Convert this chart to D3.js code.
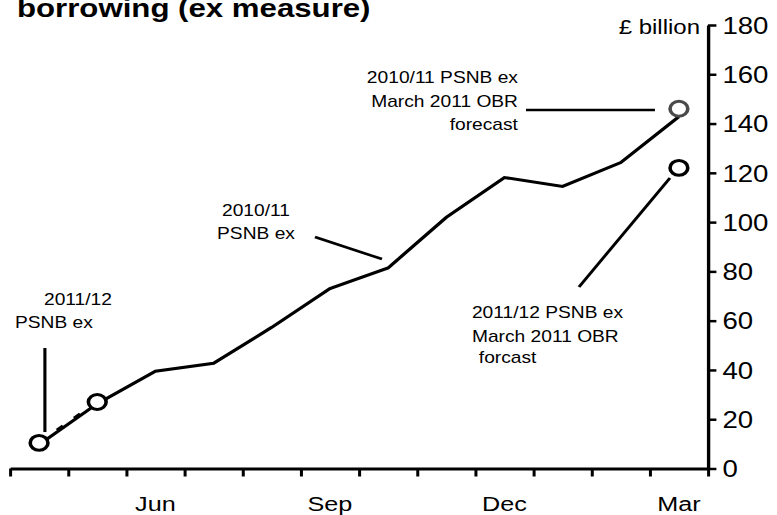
<!DOCTYPE html>
<html>
<head>
<meta charset="utf-8">
<script src="https://cdn.jsdelivr.net/npm/d3@7"></script>
<style>
  html, body { margin: 0; padding: 0; background: #fff; }
  svg { display: block; }
  text { font-family: "Liberation Sans", Arial, sans-serif; fill: #000; }
</style>
</head>
<body>
<div id="chart"></div>
<script>
// Financial-year months, April to March
const months = ["Apr", "May", "Jun", "Jul", "Aug", "Sep", "Oct", "Nov", "Dec", "Jan", "Feb", "Mar"];
const monthLabels = ["Jun", "Sep", "Dec", "Mar"];

// Cumulative public sector net borrowing, ex financial interventions (£ billion)
const psnb1011 = [9.7, 26.3, 39.5, 42.7, 57.3, 73.0, 81.4, 101.9, 118.1, 114.5, 124.2, 142.8];
const psnb1112 = [10.4, 27.0];           // April and May outturns so far
const forecast1011 = 146;                // March 2011 OBR forecast for 2010/11
const forecast1112 = 122;                // March 2011 OBR forecast for 2011/12

const yTicks = [0, 20, 40, 60, 80, 100, 120, 140, 160, 180];

// The artwork is laid out on a narrower canvas and stretched sideways to fill the page
const W = 777, H = 515, SX = 1.2;
const VW = W / SX;

const svg = d3.select("#chart").append("svg")
  .attr("width", W).attr("height", H)
  .attr("viewBox", `0 0 ${VW} ${H}`)
  .attr("preserveAspectRatio", "none");

const plotLeft = 10 / SX, plotRight = 708 / SX;
const plotBottom = 468.5, plotTop = 25;

const xEdge = d3.scaleLinear().domain([0, months.length]).range([plotLeft, plotRight]);
const xBand = d3.scaleBand().domain(months).range([plotLeft, plotRight]);
const xc = m => xBand(m) + xBand.bandwidth() / 2;
const y = d3.scaleLinear().domain([0, 180]).range([plotBottom, plotTop]);

// Title (second line of the heading)
svg.append("text")
  .attr("x", 17 / SX).attr("y", 17)
  .attr("font-size", 26).attr("font-weight", "bold")
  .text("borrowing (ex measure)");

// X axis: ticks on month boundaries, labels in the middle of each quarter-end month
const gx = svg.append("g").attr("transform", `translate(0,${plotBottom})`)
  .call(d3.axisBottom(xEdge).tickValues(d3.range(months.length + 1))
    .tickSize(8).tickSizeOuter(0).tickFormat(""));
gx.select(".domain").attr("stroke", "#000").attr("stroke-width", 3);
gx.selectAll(".tick line").attr("stroke", "#000").attr("stroke-width", 2.5);

svg.append("g").selectAll("text").data(monthLabels).join("text")
  .attr("x", d => xc(d)).attr("y", 511)
  .attr("text-anchor", "middle").attr("font-size", 21)
  .text(d => d);

// Y axis on the right
const gy = svg.append("g").attr("transform", `translate(${plotRight},0)`)
  .call(d3.axisRight(y).tickValues(yTicks).tickSize(7).tickSizeOuter(0).tickPadding(5));
gy.select(".domain").attr("stroke", "#000").attr("stroke-width", 2.8);
gy.selectAll(".tick line").attr("stroke", "#000").attr("stroke-width", 2.5);
gy.selectAll(".tick text")
  .attr("font-size", 23).attr("font-family", "Liberation Sans, Arial, sans-serif")
  .attr("fill", "#000").attr("dy", "0.36em");

svg.append("text")
  .attr("x", 700 / SX).attr("y", y(176.3))
  .attr("text-anchor", "end").attr("font-size", 20)
  .text("£ billion");

// Data lines
const line = d3.line().x((d, i) => xc(months[i])).y(d => y(d));

svg.append("path").datum(psnb1011)
  .attr("d", line).attr("fill", "none")
  .attr("stroke", "#000").attr("stroke-width", 3).attr("stroke-linejoin", "miter");

svg.append("path").datum(psnb1112)
  .attr("d", line).attr("fill", "none")
  .attr("stroke", "#000").attr("stroke-width", 3.2)
  .attr("stroke-dasharray", "6.6 12.1").attr("stroke-dashoffset", -0.9);

// Annotation leader lines, placed in month/value space
const u = d3.scaleLinear().domain([0, 12]).range([plotLeft, plotRight]);
const leaders = [
  [[0.6, 48.9], [0.6, 14.8]],
  [[5.243, 93.95], [6.395, 85.0]],
  [[8.871, 145.5], [11.088, 145.5]],
  [[9.782, 73.7], [11.346, 117.9]]
];
svg.append("g").selectAll("line").data(leaders).join("line")
  .attr("x1", d => u(d[0][0])).attr("y1", d => y(d[0][1]))
  .attr("x2", d => u(d[1][0])).attr("y2", d => y(d[1][1]))
  .attr("stroke", "#000").attr("stroke-width", 2.6);

// Outturn markers for 2011/12 and forecast markers at year end
const markers = [
  { m: "Apr", v: psnb1112[0], c: "#000" },
  { m: "May", v: psnb1112[1], c: "#000" },
  { m: "Mar", v: forecast1011, c: "#4a4a4a" },
  { m: "Mar", v: forecast1112, c: "#000" }
];
svg.append("g").selectAll("circle").data(markers).join("circle")
  .attr("cx", d => xc(d.m)).attr("cy", d => y(d.v))
  .attr("r", 7.4).attr("fill", "#fff")
  .attr("stroke", d => d.c).attr("stroke-width", 3);

// Annotation text
const notes = [
  { t: "2011/12", at: [0.585, 66.4], a: "start" },
  { t: "PSNB ex", at: [0.086, 57.0], a: "start" },
  { t: "2010/11", at: [4.229, 102.5], a: "middle" },
  { t: "PSNB ex", at: [4.229, 93.1], a: "middle" },
  { t: "2010/11 PSNB ex", at: [8.733, 156.3], a: "end" },
  { t: "March 2011 OBR", at: [8.733, 146.9], a: "end" },
  { t: "forecast", at: [8.733, 137.4], a: "end" },
  { t: "2011/12 PSNB ex", at: [7.942, 61.1], a: "start" },
  { t: "March 2011 OBR", at: [7.942, 51.3], a: "start" },
  { t: "forcast", at: [8.06, 42.8], a: "start" }
];
svg.append("g").selectAll("text").data(notes).join("text")
  .attr("x", d => u(d.at[0])).attr("y", d => y(d.at[1]))
  .attr("text-anchor", d => d.a).attr("font-size", 16)
  .text(d => d.t);
</script>
</body>
</html>
